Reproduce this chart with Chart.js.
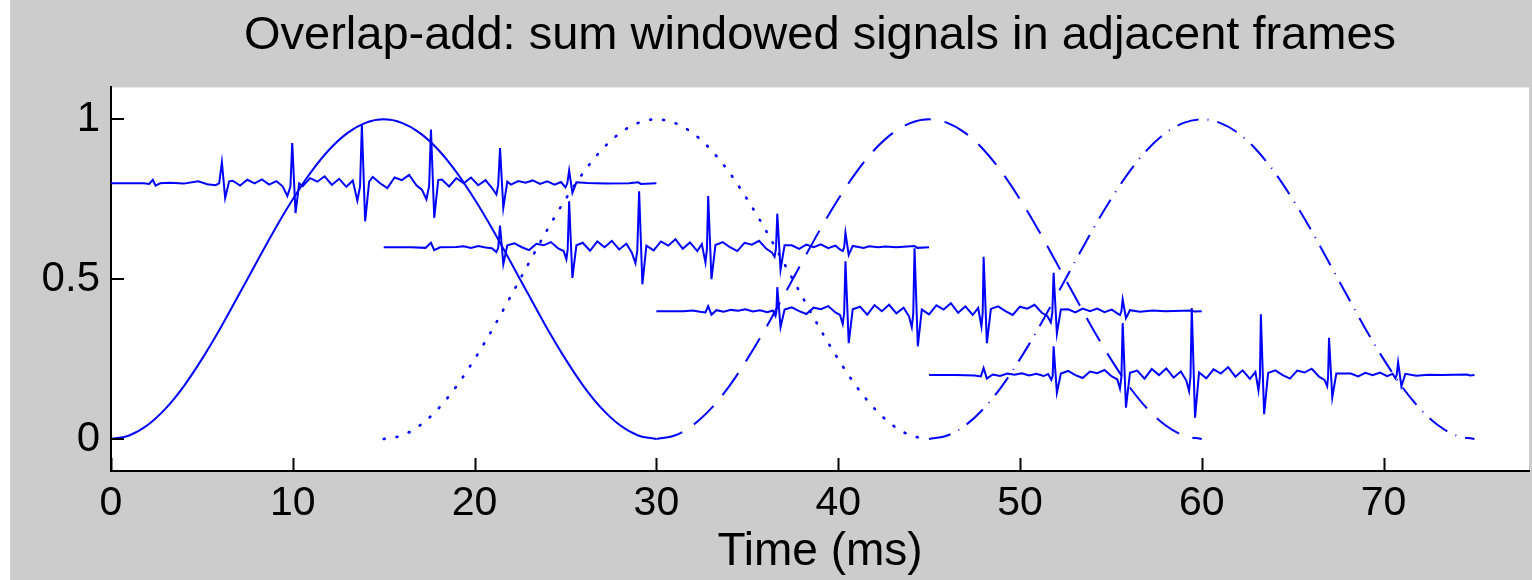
<!DOCTYPE html>
<html>
<head>
<meta charset="utf-8">
<title>Overlap-add</title>
<script src="https://cdn.jsdelivr.net/npm/chart.js@4.4.1/dist/chart.umd.min.js"></script>
<style>
    html, body { margin: 0; padding: 0; background: #ffffff; }
    #chartCanvas { display: block; }
</style>
</head>
<body>
<canvas id="chartCanvas" width="1532" height="580"></canvas>
<script>
// Hann window, one value per ms over a 30 ms frame
const windowShape = [0, 0.011, 0.043, 0.095, 0.165, 0.25, 0.345, 0.448, 0.552, 0.655, 0.75, 0.835, 0.905, 0.957, 0.989, 1,
    0.989, 0.957, 0.905, 0.835, 0.75, 0.655, 0.552, 0.448, 0.345, 0.25, 0.165, 0.095, 0.043, 0.011, 0];
const windowStep = 1;
const windowStarts = [0, 15, 30, 45];
const windowDashes = [[], [1, 12], [27, 14], [22, 9, 1, 9]];

const xTicks = [0, 10, 20, 30, 40, 50, 60, 70];
const yTicks = [0, 0.5, 1];

// windowed signal in each frame, [time ms, value]
const frame1 = [
    [0, 0.8], [1.8, 0.8], [2.1, 0.798], [2.3, 0.811], [2.45, 0.793], [2.7, 0.8], [3.2, 0.802], [4.0, 0.799], [4.8, 0.806], [5.3, 0.797], [5.75, 0.794], [5.95, 0.8],
    [6.1, 0.866], [6.28, 0.754], [6.5, 0.806], [6.7, 0.808], [7.1, 0.793], [7.5, 0.811], [7.9, 0.8], [8.3, 0.812], [8.7, 0.796], [9.1, 0.807], [9.45, 0.79], [9.7, 0.76], [9.87, 0.79],
    [9.97, 0.926], [10.15, 0.707], [10.35, 0.8], [10.55, 0.791], [10.95, 0.816], [11.35, 0.805], [11.75, 0.822], [12.15, 0.795], [12.55, 0.814], [12.95, 0.789], [13.3, 0.809], [13.55, 0.746], [13.7, 0.79],
    [13.8, 0.983], [13.98, 0.681], [14.2, 0.805], [14.4, 0.82], [14.8, 0.8], [15.2, 0.785], [15.6, 0.818], [16.0, 0.81], [16.4, 0.826], [16.8, 0.794], [17.1, 0.78], [17.35, 0.75], [17.5, 0.792],
    [17.6, 0.968], [17.78, 0.692], [18.0, 0.81], [18.2, 0.812], [18.6, 0.79], [19.0, 0.816], [19.4, 0.8], [19.8, 0.818], [20.2, 0.794], [20.6, 0.81], [20.95, 0.786], [21.2, 0.765], [21.3, 0.795],
    [21.4, 0.91], [21.58, 0.723], [21.8, 0.805], [22.0, 0.796], [22.4, 0.807], [22.8, 0.802], [23.2, 0.809], [23.6, 0.798], [24.0, 0.806], [24.4, 0.796], [24.75, 0.804], [25.0, 0.787], [25.1, 0.8],
    [25.2, 0.84], [25.38, 0.77], [25.6, 0.803], [26.2, 0.801], [27.2, 0.799], [28.5, 0.8], [29.0, 0.803], [29.15, 0.798], [30, 0.8]
];

const frame2 = [
    [15, 0.6], [16.5, 0.6], [17.3, 0.598], [17.6, 0.614], [17.78, 0.591], [18.1, 0.6], [19.0, 0.601],
    [19.4, 0.603], [19.8, 0.598], [20.2, 0.604], [20.6, 0.599], [20.95, 0.597], [21.2, 0.585], [21.3, 0.598],
    [21.4, 0.668], [21.58, 0.547], [21.8, 0.606], [22.2, 0.612], [22.6, 0.6], [23.0, 0.591], [23.4, 0.611], [23.8, 0.606], [24.2, 0.616], [24.6, 0.596], [24.9, 0.588], [25.05, 0.562], [25.12, 0.592],
    [25.2, 0.744], [25.38, 0.504], [25.6, 0.606], [25.95, 0.614], [26.35, 0.589], [26.75, 0.618], [27.15, 0.6], [27.55, 0.62], [27.95, 0.593], [28.35, 0.611], [28.65, 0.583], [28.85, 0.55], [28.95, 0.59],
    [29.05, 0.775], [29.23, 0.484], [29.45, 0.605], [29.85, 0.59], [30.25, 0.618], [30.65, 0.605], [31.05, 0.625], [31.45, 0.595], [31.85, 0.615], [32.25, 0.588], [32.5, 0.61], [32.7, 0.552], [32.78, 0.595],
    [32.85, 0.76], [33.03, 0.5], [33.25, 0.607], [33.65, 0.616], [34.05, 0.6], [34.45, 0.588], [34.85, 0.614], [35.25, 0.608], [35.65, 0.62], [36.05, 0.595], [36.35, 0.584], [36.5, 0.57], [36.58, 0.596],
    [36.65, 0.705], [36.83, 0.53], [37.05, 0.606], [37.45, 0.606], [37.85, 0.595], [38.25, 0.608], [38.65, 0.6], [39.05, 0.609], [39.45, 0.597], [39.85, 0.605], [40.1, 0.593], [40.25, 0.588], [40.33, 0.6],
    [40.4, 0.645], [40.58, 0.576], [40.8, 0.604], [41.4, 0.598], [41.7, 0.603], [42.2, 0.6], [42.6, 0.602], [43.2, 0.6], [44.2, 0.604], [44.35, 0.598], [45, 0.6]
];

const frame3 = [
    [30, 0.4], [31.5, 0.4], [32.0, 0.402], [32.4, 0.398], [32.7, 0.396], [32.85, 0.416], [33.03, 0.389], [33.3, 0.403],
    [33.7, 0.398], [34.1, 0.404], [34.5, 0.401], [34.9, 0.406], [35.3, 0.399], [35.7, 0.403], [36.1, 0.397], [36.4, 0.402], [36.55, 0.385], [36.6, 0.398],
    [36.65, 0.475], [36.83, 0.35], [37.05, 0.405], [37.45, 0.412], [37.85, 0.4], [38.25, 0.391], [38.65, 0.411], [39.05, 0.406], [39.45, 0.416], [39.85, 0.396], [40.1, 0.388], [40.25, 0.36], [40.33, 0.395],
    [40.4, 0.556], [40.58, 0.3], [40.8, 0.406], [41.2, 0.414], [41.6, 0.389], [42.0, 0.419], [42.4, 0.4], [42.8, 0.42], [43.2, 0.393], [43.6, 0.411], [43.9, 0.383], [44.05, 0.35], [44.13, 0.392],
    [44.2, 0.597], [44.38, 0.29], [44.6, 0.405], [45.0, 0.39], [45.4, 0.418], [45.8, 0.405], [46.2, 0.425], [46.6, 0.395], [47.0, 0.415], [47.4, 0.388], [47.7, 0.41], [47.88, 0.352], [47.95, 0.395],
    [48.0, 0.57], [48.18, 0.3], [48.4, 0.407], [48.8, 0.415], [49.2, 0.4], [49.6, 0.388], [50.0, 0.414], [50.4, 0.408], [50.8, 0.42], [51.2, 0.395], [51.5, 0.385], [51.7, 0.365], [51.78, 0.396],
    [51.85, 0.52], [52.03, 0.33], [52.25, 0.405], [52.65, 0.406], [53.05, 0.396], [53.45, 0.408], [53.85, 0.4], [54.25, 0.408], [54.65, 0.397], [55.05, 0.405], [55.35, 0.393], [55.5, 0.388], [55.58, 0.4],
    [55.65, 0.437], [55.83, 0.378], [56.05, 0.403], [56.6, 0.398], [57.3, 0.402], [58.0, 0.4], [59.4, 0.402], [59.6, 0.399], [60, 0.4]
];

const frame4 = [
    [45, 0.2], [46.5, 0.2], [47.5, 0.199], [47.85, 0.196], [48.0, 0.222], [48.18, 0.189], [48.5, 0.202],
    [48.9, 0.197], [49.3, 0.205], [49.7, 0.201], [50.1, 0.206], [50.5, 0.199], [50.9, 0.204], [51.3, 0.197], [51.55, 0.203], [51.72, 0.185], [51.8, 0.198],
    [51.85, 0.29], [52.03, 0.145], [52.25, 0.205], [52.65, 0.213], [53.05, 0.2], [53.45, 0.191], [53.85, 0.211], [54.25, 0.206], [54.65, 0.216], [55.05, 0.196], [55.35, 0.187], [55.5, 0.158], [55.58, 0.195],
    [55.65, 0.363], [55.83, 0.098], [56.05, 0.207], [56.45, 0.214], [56.85, 0.189], [57.25, 0.219], [57.65, 0.2], [58.05, 0.221], [58.45, 0.192], [58.85, 0.211], [59.15, 0.183], [59.3, 0.15], [59.38, 0.195],
    [59.45, 0.41], [59.63, 0.067], [59.85, 0.208], [60.25, 0.19], [60.65, 0.218], [61.05, 0.205], [61.45, 0.225], [61.85, 0.195], [62.25, 0.215], [62.65, 0.188], [62.95, 0.21], [63.12, 0.152], [63.2, 0.196],
    [63.25, 0.39], [63.43, 0.078], [63.65, 0.207], [64.05, 0.215], [64.45, 0.2], [64.85, 0.189], [65.25, 0.214], [65.65, 0.208], [66.05, 0.22], [66.45, 0.195], [66.75, 0.185], [66.9, 0.165], [66.95, 0.197],
    [67.0, 0.317], [67.18, 0.13], [67.4, 0.205], [68.2, 0.205], [68.6, 0.196], [69.0, 0.207], [69.4, 0.2], [69.8, 0.208], [70.2, 0.197], [70.5, 0.204], [70.65, 0.19], [70.72, 0.2],
    [70.8, 0.24], [70.98, 0.165], [71.2, 0.204], [71.8, 0.198], [72.5, 0.201], [73.2, 0.2], [74.6, 0.202], [74.75, 0.199], [75, 0.2]
];

const frames = [frame1, frame2, frame3, frame4];

const blue = '#0000ff';
const fontFamily = "'Liberation Sans', Arial, Helvetica, sans-serif";

function buildDatasets() {
    const sets = [];
    windowStarts.forEach((start, i) => {
        sets.push({
            data: windowShape.map((v, k) => ({ x: start + k * windowStep, y: v })),
            borderColor: blue,
            borderWidth: i === 1 ? 2.6 : 2,
            borderDash: windowDashes[i],
            borderCapStyle: i === 1 ? 'round' : 'butt',
            cubicInterpolationMode: 'monotone',
            pointRadius: 0,
            fill: false
        });
    });
    frames.forEach(frame => {
        sets.push({
            data: frame.map(p => ({ x: p[0], y: p[1] })),
            borderColor: blue,
            borderWidth: 2,
            tension: 0,
            pointRadius: 0,
            fill: false
        });
    });
    return sets;
}

// grey figure background, white axes box
const backgroundPlugin = {
    id: 'figureBackground',
    beforeDraw(chart) {
        const ctx = chart.ctx;
        const area = chart.chartArea;
        ctx.save();
        ctx.fillStyle = '#cccccc';
        ctx.fillRect(0, 0, chart.width, chart.height);
        ctx.fillStyle = '#ffffff';
        ctx.fillRect(0, 0, 10, chart.height);
        ctx.fillRect(area.left, area.top, area.right - area.left, area.bottom - area.top);
        ctx.restore();
    }
};

// tick marks point into the plot
const innerTicksPlugin = {
    id: 'innerTicks',
    afterDraw(chart) {
        const ctx = chart.ctx;
        const xs = chart.scales.x;
        const ys = chart.scales.y;
        const area = chart.chartArea;
        ctx.save();
        ctx.strokeStyle = '#000000';
        ctx.lineWidth = 2;
        ctx.beginPath();
        xTicks.forEach(v => {
            const px = Math.round(xs.getPixelForValue(v)) + 0.5;
            ctx.moveTo(px, area.bottom);
            ctx.lineTo(px, area.bottom - 13);
        });
        yTicks.forEach(v => {
            const py = Math.round(ys.getPixelForValue(v));
            ctx.moveTo(area.left, py);
            ctx.lineTo(area.left + 13, py);
        });
        ctx.stroke();
        ctx.restore();
    }
};

const ctx = document.getElementById('chartCanvas').getContext('2d');
new Chart(ctx, {
    type: 'line',
    data: { datasets: buildDatasets() },
    options: {
        responsive: false,
        animation: false,
        devicePixelRatio: 1,
        layout: { padding: { left: 0, right: 3, top: 0, bottom: 0 } },
        scales: {
            x: {
                type: 'linear',
                min: 0,
                max: 78,
                afterBuildTicks: scale => { scale.ticks = xTicks.map(v => ({ value: v })); },
                afterFit: scale => { scale.height = 109; },
                grid: { display: false, drawTicks: false },
                border: { display: true, color: '#000000', width: 2 },
                ticks: {
                    color: '#000000',
                    font: { family: fontFamily, size: 41 },
                    padding: 8,
                    maxRotation: 0,
                    autoSkip: false,
                    callback: value => String(value)
                },
                title: {
                    display: true,
                    text: 'Time (ms)',
                    color: '#000000',
                    font: { family: fontFamily, size: 46 },
                    padding: { top: 0, bottom: 0 }
                }
            },
            y: {
                type: 'linear',
                min: -0.1,
                max: 1.1,
                afterBuildTicks: scale => { scale.ticks = yTicks.map(v => ({ value: v })); },
                afterFit: scale => { scale.width = 111; },
                grid: { display: false, drawTicks: false },
                border: { display: true, color: '#000000', width: 2 },
                ticks: {
                    color: '#000000',
                    font: { family: fontFamily, size: 42 },
                    padding: 11,
                    callback: value => String(value)
                }
            }
        },
        plugins: {
            legend: { display: false },
            tooltip: { enabled: false },
            title: {
                display: true,
                fullSize: false,
                text: 'Overlap-add: sum windowed signals in adjacent frames',
                color: '#000000',
                font: { family: fontFamily, size: 47, weight: 'normal' },
                padding: { top: 8, bottom: 23 }
            }
        }
    },
    plugins: [backgroundPlugin, innerTicksPlugin]
});
</script>
</body>
</html>
